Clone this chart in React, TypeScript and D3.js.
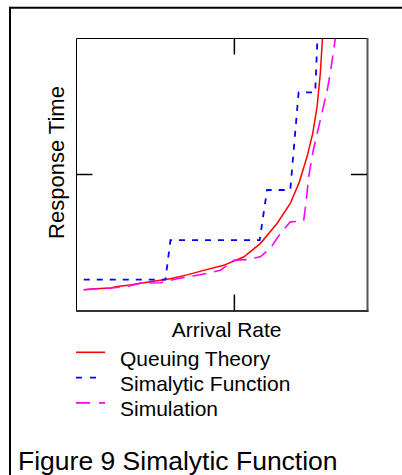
import React from "react";
import * as d3 from "d3";

const xTicks = [0.5];
const yTicks = [10];
const xDomain = [0, 0.92];
const yDomain = [0, 20];

const queuingX = [0.023, 0.06, 0.108, 0.129, 0.17, 0.213, 0.255, 0.297, 0.35, 0.403, 0.466, 0.529, 0.582, 0.635, 0.677, 0.705, 0.73, 0.748, 0.762, 0.772, 0.779];
const queuingY = [1.53, 1.6, 1.65, 1.77, 1.88, 2.04, 2.18, 2.34, 2.62, 2.95, 3.32, 3.93, 4.92, 6.4, 7.87, 9.4, 11.3, 13.0, 15.0, 17.4, 20.0];

const simalyticX = [0.023, 0.2817, 0.2975, 0.58, 0.6035, 0.677, 0.7035, 0.756, 0.763];
const simalyticY = [2.27, 2.27, 5.17, 5.17, 8.86, 8.86, 16.04, 16.04, 20.0];

const simulationX = [0.023, 0.1076, 0.1605, 0.2025, 0.2658, 0.3187, 0.3924, 0.4557, 0.4978, 0.5402, 0.5823, 0.614, 0.6456, 0.6773, 0.7193, 0.7279, 0.7352, 0.75, 0.7722, 0.7944, 0.8039, 0.8197];
const simulationY = [1.53, 1.66, 1.77, 2.01, 2.04, 2.34, 2.63, 2.95, 3.69, 3.74, 3.95, 4.58, 5.66, 6.52, 6.59, 8.12, 9.84, 11.81, 14.02, 16.24, 17.49, 20.0];

const legendLabels = ["Queuing Theory", "Simalytic Function", "Simulation"];
const xLabel = "Arrival Rate";
const yLabel = "Response Time";
const caption = "Figure 9 Simalytic Function";

const FONT = "'Liberation Sans', Arial, sans-serif";

export default function App() {
  const left = 76.5, right = 367, top = 38.5, bottom = 310.5;
  const x = d3.scaleLinear().domain(xDomain).range([left, right]);
  const y = d3.scaleLinear().domain(yDomain).range([bottom, top]);
  const line = d3.line<[number, number]>().x((d) => x(d[0])).y((d) => y(d[1]));
  const zip = (a: number[], b: number[]) => a.map((v, i) => [v, b[i]] as [number, number]);

  const series = [
    { xs: queuingX, ys: queuingY, color: "#ff0000", dash: undefined as string | undefined, w: 1.5 },
    { xs: simalyticX, ys: simalyticY, color: "#0000ff", dash: "6,7", w: 1.8 },
    { xs: simulationX, ys: simulationY, color: "#ff00ff", dash: "14,8", w: 1.6 },
  ];
  const legendDash = [undefined, "6,8", "14,9"];
  const legendEnd = [105, 96, 105];

  return (
    <svg width={402} height={475} style={{ position: "absolute", left: 0, top: 0, background: "#fff" }}>
      <rect x={0} y={0} width={402} height={475} fill="#fff" />
      <line x1={10} y1={7.7} x2={402} y2={7.7} stroke="#000" strokeWidth={2} />
      <line x1={10} y1={6.7} x2={10} y2={475} stroke="#000" strokeWidth={2} />

      <defs>
        <clipPath id="plotclip">
          <rect x={left} y={top} width={right - left} height={bottom - top} />
        </clipPath>
      </defs>

      <line x1={left} y1={top} x2={right} y2={top} stroke="#000" strokeWidth={1} />
      <line x1={left} y1={top} x2={left} y2={bottom} stroke="#000" strokeWidth={1} />
      <line x1={right + 0.5} y1={top - 0.5} x2={right + 0.5} y2={bottom + 1} stroke="#555" strokeWidth={2} />
      <line x1={left - 0.5} y1={bottom + 0.5} x2={right + 1.5} y2={bottom + 0.5} stroke="#333" strokeWidth={2} />

      {xTicks.map((t) => (
        <g key={"x" + t}>
          <line x1={x(t)} y1={top} x2={x(t)} y2={top + 16} stroke="#000" strokeWidth={1.5} />
          <line x1={x(t)} y1={bottom} x2={x(t)} y2={bottom - 16} stroke="#000" strokeWidth={1.5} />
        </g>
      ))}
      {yTicks.map((t) => (
        <g key={"y" + t}>
          <line x1={left} y1={y(t)} x2={left + 16} y2={y(t)} stroke="#000" strokeWidth={1.5} />
          <line x1={right} y1={y(t)} x2={right - 16} y2={y(t)} stroke="#000" strokeWidth={1.5} />
        </g>
      ))}

      <g clipPath="url(#plotclip)">
        {series.map((s, i) => (
          <path key={i} d={line(zip(s.xs, s.ys)) || ""} fill="none" stroke={s.color} strokeWidth={s.w} strokeDasharray={s.dash} />
        ))}
      </g>

      <text x={226.7} y={336.7} textAnchor="middle" fontFamily={FONT} fontSize={21} fill="#000">{xLabel}</text>
      <text transform="translate(63.5,162.5) rotate(-90)" textAnchor="middle" fontFamily={FONT} fontSize={22} fill="#000">{yLabel}</text>

      {legendLabels.map((lab, i) => (
        <g key={lab}>
          <line x1={76} x2={legendEnd[i]} y1={352.3 + i * 25.3} y2={352.3 + i * 25.3} stroke={series[i].color} strokeWidth={1.6} strokeDasharray={legendDash[i]} />
          <text x={120} y={366 + i * 25} fontFamily={FONT} fontSize={21} fill="#000">{lab}</text>
        </g>
      ))}

      <text x={18} y={470} fontFamily={FONT} fontSize={26.5} fill="#000">{caption}</text>
    </svg>
  );
}
